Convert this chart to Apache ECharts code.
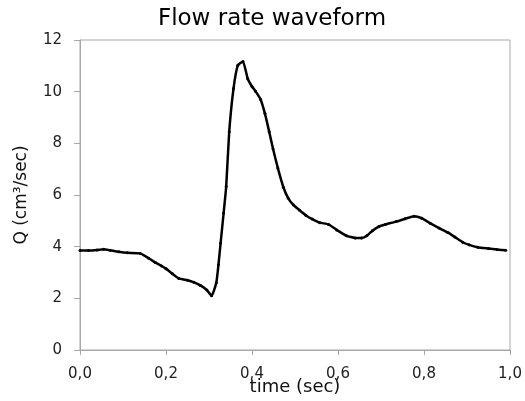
<!DOCTYPE html>
<html>
<head>
<meta charset="utf-8">
<script src="https://cdn.jsdelivr.net/npm/echarts@6/dist/echarts.min.js"></script>
<style>html,body{margin:0;padding:0;background:#fff;}#c{width:525px;height:401px;}</style>
</head>
<body>
<div id="c"></div>
<script>
var titleText = 'Flow rate waveform';
var xName = 'time (sec)';
var yName = 'Q (cm\u00B3/sec)';
var time = [0.00,0.02,0.04,0.055,0.07,0.09,0.11,0.14,0.16,0.175,0.19,0.20,0.215,0.23,0.25,0.265,0.28,0.295,0.306,0.317,0.322,0.327,0.334,0.340,0.347,0.357,0.367,0.379,0.39,0.400,0.408,0.42,0.43,0.44,0.449,0.46,0.473,0.484,0.496,0.51,0.525,0.54,0.558,0.578,0.597,0.62,0.64,0.655,0.667,0.68,0.695,0.71,0.735,0.756,0.777,0.795,0.815,0.835,0.855,0.872,0.89,0.905,0.925,0.95,0.97,0.99];
var flow = [3.85,3.85,3.87,3.90,3.86,3.80,3.76,3.74,3.55,3.39,3.25,3.15,2.95,2.77,2.70,2.62,2.50,2.32,2.10,2.60,3.30,4.14,5.30,6.33,8.45,10.12,11.02,11.17,10.50,10.20,10.02,9.70,9.16,8.45,7.78,7.05,6.30,5.88,5.62,5.42,5.22,5.07,4.93,4.86,4.65,4.42,4.34,4.34,4.42,4.62,4.78,4.86,4.97,5.08,5.18,5.10,4.90,4.72,4.55,4.37,4.17,4.07,3.98,3.93,3.89,3.86];
var xTicks = [0, 0.2, 0.4, 0.6, 0.8, 1.0];

var data = time.map(function (t, i) { return [t, flow[i]]; });
var font = 'DejaVu Sans';
var chart = echarts.init(document.getElementById('c'));
chart.setOption({
  animation: false,
  backgroundColor: '#fff',
  title: {
    text: titleText, left: 267, top: 3, textAlign: 'center',
    textStyle: { fontFamily: font, fontSize: 23, fontWeight: 'normal', color: '#000' }
  },
  grid: { left: 80, right: 15, top: 40, bottom: 51, show: true, borderColor: '#a8a8a8', borderWidth: 1,
          containLabel: false, outerBoundsMode: 'none' },
  xAxis: {
    type: 'value', min: 0, max: 1, interval: 0.2,
    name: xName, nameLocation: 'middle', nameGap: 28, nameMoveOverlap: false,
    nameTextStyle: { fontFamily: font, fontSize: 18, color: '#111' },
    axisLine: { show: true, lineStyle: { color: '#a8a8a8', width: 1 } },
    axisTick: { show: true, length: 5, lineStyle: { color: '#a8a8a8' } },
    splitLine: { show: false },
    axisLabel: {
      margin: 17, fontFamily: font, fontSize: 15, color: '#222',
      formatter: function (v) { return v.toFixed(1).replace('.', ','); }
    }
  },
  yAxis: {
    type: 'value', min: 0, max: 12, interval: 2,
    name: yName, nameLocation: 'middle', nameGap: 50, nameRotate: 90, nameMoveOverlap: false,
    nameTextStyle: { fontFamily: font, fontSize: 17, color: '#111' },
    axisLine: { show: true, lineStyle: { color: '#a8a8a8', width: 1 } },
    axisTick: { show: true, length: 6, lineStyle: { color: '#a8a8a8' } },
    splitLine: { show: false },
    axisLabel: { margin: 18, fontFamily: font, fontSize: 15, color: '#222' }
  },
  series: [{
    type: 'line', data: data, smooth: 0.15,
    symbol: 'circle', symbolSize: 3, showSymbol: true,
    itemStyle: { color: '#000' },
    lineStyle: { color: '#000', width: 2.5 }
  }]
});
</script>
</body>
</html>
